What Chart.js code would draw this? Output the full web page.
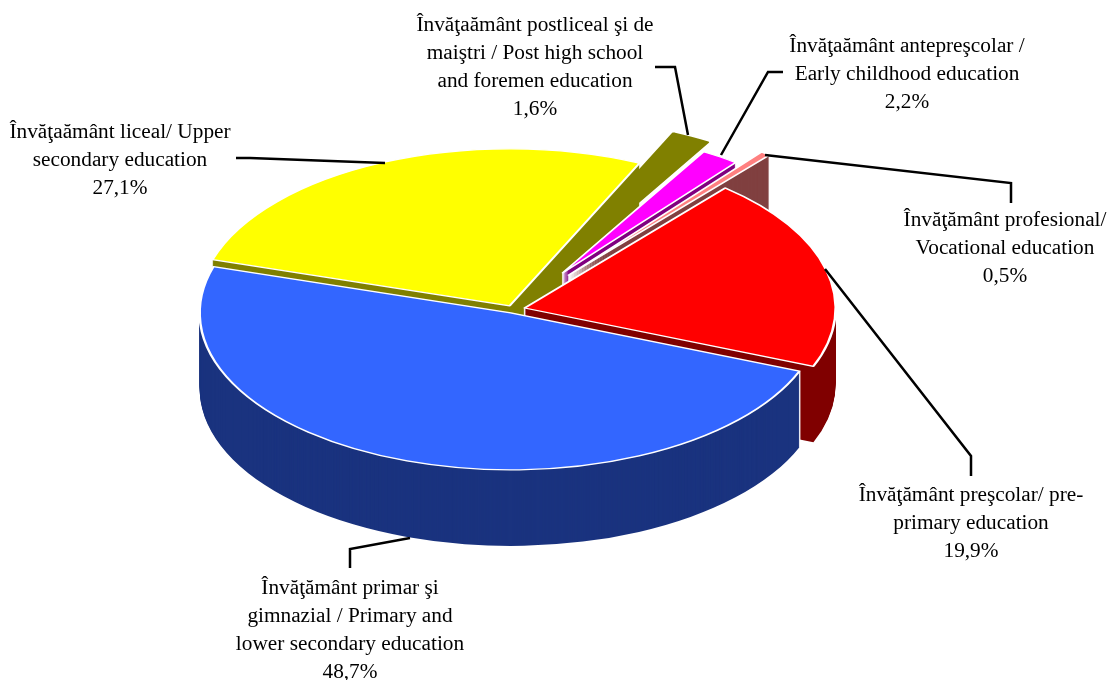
<!DOCTYPE html>
<html>
<head>
<meta charset="utf-8">
<style>
  html, body { margin: 0; padding: 0; background: #fff; }
  canvas { display: block; }
</style>
<script src="https://cdn.jsdelivr.net/npm/chart.js@4"></script>
</head>
<body>
<canvas id="pie" width="1113" height="680"></canvas>
<script>
const categories = ["Primar si gimnazial", "Liceal", "Postliceal", "Antepreşcolar", "Profesional", "Preşcolar"];
const shares = [48.7, 27.1, 1.6, 2.2, 0.5, 19.9];

const topColors = ["#3366FF", "#FFFF00", "#808000", "#FF00FF", "#FF8080", "#FF0000"];
const wallColors = ["#1A337F", "#808000", "#808000", "#800080", "#804040", "#800000"];
const edgeColors = ["#FFFFFF", "#FFFFFF", "#808000", "#FFFFFF", "#FFFFFF", "#FFFFFF"];

// how far each slice is pulled out, how big it is, how tall its wall is
const explodeBy = [7, 8, 0, 88, 88, 12];
const radiusScale = [1, 1, 1.235, 0.895, 1, 1];
const wallDepth = [76, 76, 0, 40, 55, 76];
const drawOrder = [1, 2, 3, 4, 5, 0];

const labelLines = [
    ["Învăţaământ postliceal şi de", "maiştri / Post high school", "and foremen education", "1,6%"],
    ["Învăţaământ antepreşcolar /", "Early childhood education", "2,2%"],
    ["Învăţaământ liceal/ Upper", "secondary education", "27,1%"],
    ["Învăţământ profesional/", "Vocational education", "0,5%"],
    ["Învăţământ preşcolar/ pre-", "primary education", "19,9%"],
    ["Învăţământ primar şi", "gimnazial / Primary and", "lower secondary education", "48,7%"],
];
const labelX = [535, 907, 120, 1005, 971, 350];
const labelTop = [31, 52, 138, 226, 501, 594];
const leaderLines = [
    [[655, 67], [675, 67], [688, 135]],
    [[783, 72], [768, 72], [721, 155]],
    [[236, 158], [250, 158], [385, 163]],
    [[765, 155], [1011, 183], [1011, 203]],
    [[825, 269], [971, 456], [971, 476]],
    [[410, 538], [350, 549], [350, 568]],
];

const centerX = 513;
const centerY = 309.5;
const squash = 0.505;

function placeSlice(ctx, arc, i, drop) {
    const mid = (arc.startAngle + arc.endAngle) / 2;
    const s = radiusScale[i];
    ctx.translate(centerX + Math.cos(mid) * explodeBy[i], centerY + drop + Math.sin(mid) * explodeBy[i] * squash);
    ctx.scale(s, s * squash);
    ctx.translate(-arc.x, -arc.y);
}

function drawWith(ctx, arc, i, drop, overrides) {
    const base = arc.options;
    arc.options = Object.assign(Object.create(base), overrides);
    ctx.save();
    placeSlice(ctx, arc, i, drop);
    arc.draw(ctx);
    ctx.restore();
    arc.options = base;
}

const tiltedPie = {
    id: "tiltedPie",
    beforeDatasetsDraw(chart) {
        const ctx = chart.ctx;
        const arcs = chart.getDatasetMeta(0).data;
        drawOrder.forEach((i) => {
            const arc = arcs[i];
            for (let d = wallDepth[i]; d > 0; d--) {
                drawWith(ctx, arc, i, d, { backgroundColor: "#FFFFFF", borderColor: "#FFFFFF", borderWidth: 2.5 });
            }
            for (let d = wallDepth[i]; d > 0; d--) {
                drawWith(ctx, arc, i, d, { backgroundColor: wallColors[i], borderWidth: 0 });
            }
            drawWith(ctx, arc, i, 0, { backgroundColor: topColors[i], borderColor: edgeColors[i], borderWidth: 2.5, borderJoinStyle: "round" });
        });
        return false;
    },
    afterDraw(chart) {
        const ctx = chart.ctx;
        ctx.save();
        ctx.strokeStyle = "#000";
        ctx.lineWidth = 2.5;
        leaderLines.forEach((pts) => {
            ctx.beginPath();
            pts.forEach((p, n) => (n ? ctx.lineTo(p[0], p[1]) : ctx.moveTo(p[0], p[1])));
            ctx.stroke();
        });
        ctx.fillStyle = "#000";
        ctx.font = '21.3px "Liberation Serif"';
        ctx.textAlign = "center";
        labelLines.forEach((lines, n) => {
            lines.forEach((line, k) => ctx.fillText(line, labelX[n], labelTop[n] + k * 28));
        });
        ctx.restore();
    },
};

new Chart(document.getElementById("pie"), {
    type: "pie",
    data: {
        labels: categories,
        datasets: [{ data: shares, backgroundColor: topColors, borderColor: "#FFFFFF", borderWidth: 2.5 }],
    },
    options: {
        responsive: false,
        animation: false,
        rotation: 111.8,
        radius: 311,
        plugins: { legend: { display: false }, tooltip: { enabled: false } },
    },
    plugins: [tiltedPie],
});
</script>
</body>
</html>
